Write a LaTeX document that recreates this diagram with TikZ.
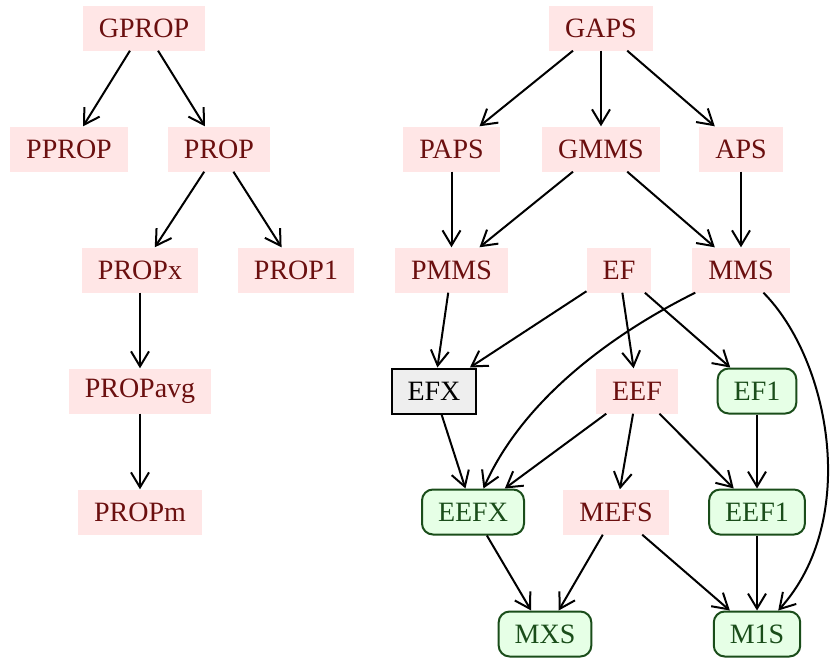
\documentclass[tikz,border=0pt]{standalone}
\usepackage{fontspec}
\setmainfont{Liberation Serif}
\usetikzlibrary{arrows.meta}
\definecolor{pinkfill}{HTML}{FFE6E6}
\definecolor{pinktext}{HTML}{6B0F0F}
\definecolor{greenfill}{HTML}{E6FFE6}
\definecolor{greenline}{HTML}{1A4D1A}
\definecolor{grayfill}{HTML}{EEEEEE}
\begin{document}
\begin{tikzpicture}[x=1pt,y=1pt,
  base/.style={font=\fontsize{28}{30}\selectfont, inner xsep=16pt, minimum height=45pt, anchor=center},
  pinkbox/.style={base, fill=pinkfill, text=pinktext},
  greenbox/.style={base, fill=greenfill, draw=greenline, text=greenline, line width=2pt, rounded corners=11pt},
  graybox/.style={base, fill=grayfill, draw=black, text=black, line width=2pt},
  conn/.style={draw=black, line width=2pt, -{Straight Barb[length=15pt,width=18pt]}}
]
\useasboundingbox (0,0) rectangle (833,-659);
% left tree
\node[pinkbox] (gprop) at (144,-28) {GPROP};
\node[pinkbox] (pprop) at (69,-149) {PPROP};
\node[pinkbox] (prop) at (219,-149) {PROP};
\node[pinkbox] (propx) at (140,-270) {PROPx};
\node[pinkbox] (prop1) at (296,-270) {PROP1};
\node[pinkbox] (propavg) at (140,-391) {PROPavg};
\node[pinkbox] (propm) at (140,-512) {PROPm};
% right graph
\node[pinkbox] (gaps) at (601,-28) {GAPS};
\node[pinkbox] (paps) at (451.5,-149) {PAPS};
\node[pinkbox] (gmms) at (601,-149) {GMMS};
\node[pinkbox] (aps) at (741,-149) {APS};
\node[pinkbox] (pmms) at (451.5,-270) {PMMS};
\node[pinkbox] (ef) at (619,-270) {EF};
\node[pinkbox] (mms) at (741,-270) {MMS};
\node[graybox] (efx) at (434,-391) {EFX};
\node[pinkbox] (eef) at (637,-391) {EEF};
\node[greenbox] (ef1) at (757,-391) {EF1};
\node[greenbox] (eefx) at (473,-512) {EEFX};
\node[pinkbox] (mefs) at (616,-512) {MEFS};
\node[greenbox] (eef1) at (757,-512) {EEF1};
\node[greenbox] (mxs) at (545,-634) {MXS};
\node[greenbox] (m1s) at (757,-634) {M1S};
% edges left
\draw[conn] (gprop) -- (pprop);
\draw[conn] (gprop) -- (prop);
\draw[conn] (prop) -- (propx);
\draw[conn] (prop) -- (prop1);
\draw[conn] (propx) -- (propavg);
\draw[conn] (propavg) -- (propm);
% edges right
\draw[conn] (gaps) -- (paps);
\draw[conn] (gaps) -- (gmms);
\draw[conn] (gaps) -- (aps);
\draw[conn] (paps) -- (pmms);
\draw[conn] (gmms) -- (pmms);
\draw[conn] (gmms) -- (mms);
\draw[conn] (aps) -- (mms);
\draw[conn] (pmms) -- (efx);
\draw[conn] (ef) -- (efx);
\draw[conn] (ef) -- (eef);
\draw[conn] (ef) -- (ef1);
\draw[conn] (mms) .. controls (620,-330) and (525,-395) .. (eefx);
\draw[conn] (mms) .. controls (830,-360) and (860,-520) .. (m1s);
\draw[conn] (efx) -- (eefx);
\draw[conn] (eef) -- (eefx);
\draw[conn] (eef) -- (mefs);
\draw[conn] (eef) -- (eef1);
\draw[conn] (ef1) -- (eef1);
\draw[conn] (eefx) -- (mxs);
\draw[conn] (mefs) -- (mxs);
\draw[conn] (mefs) -- (m1s);
\draw[conn] (eef1) -- (m1s);
\end{tikzpicture}
\end{document}
